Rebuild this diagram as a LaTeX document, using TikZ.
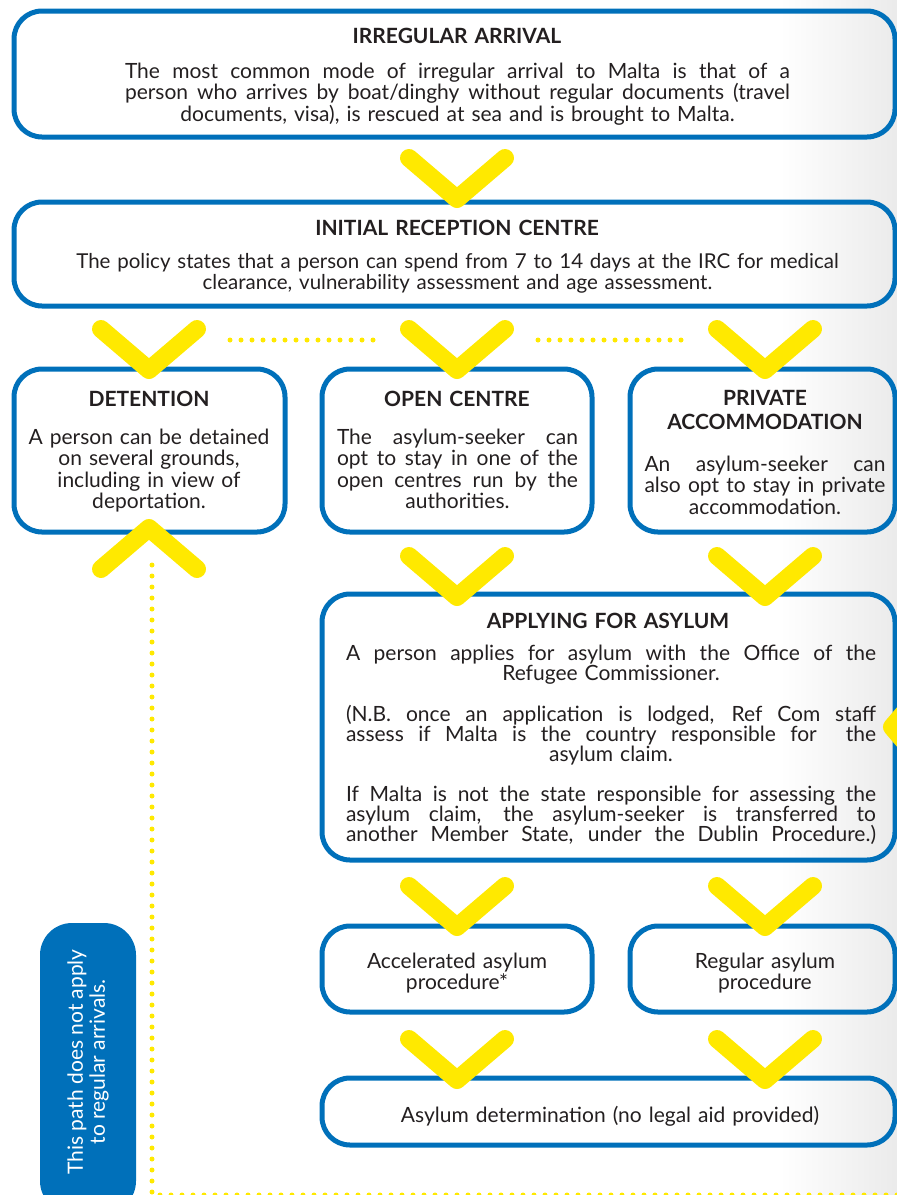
\documentclass[tikz,border=0pt]{standalone}
\usepackage{fontspec}
\setmainfont{Lato}
\usepackage{xcolor}
\usetikzlibrary{
	positioning,						% Relative positioning
	calc								% Coordinate calculations
}
\definecolor{asylumblue}{RGB}{0,112,186}
\definecolor{chevyellow}{RGB}{255,233,0}
\definecolor{inktext}{RGB}{35,31,32}
\newcommand{\jline}[1]{\leavevmode\hbox to \linewidth{\spaceskip=\fontdimen2\font plus 1fil\relax #1}}

\begin{document}
\begin{tikzpicture}
		[
		,x=1pt, y=-1pt
		,box/.style = {
			,draw=asylumblue
			,line width=5pt
			,rounded corners=28pt
			,inner sep=0pt}
		,title_label/.style = {
			,font=\fontsize{21}{24}\selectfont\bfseries
			,text=inktext
			,text width=#1
			,align=center
			,inner sep=0pt
			,anchor=base}
		,body_text/.style = {
			,font=\fontsize{21}{21.5}\selectfont
			,text=inktext
			,text width=#1
			,align=center
			,inner sep=0pt
			,anchor=base}
		,chev/.style = {
			,draw=chevyellow
			,line width=18pt
			,line cap=round
			,line join=round}
		,dots/.style = {
			,draw=chevyellow
			,line width=5pt
			,line cap=round
			,dash pattern=on 0pt off 11pt}
		,chevron/.pic = {
			\draw[chev] (-48,0) -- (0,41) -- (48,0);}
		]
		
		\useasboundingbox (0,0) rectangle (897,1195);
		\clip (0,0) rectangle (897,1195);
		
		% Shading on the right edge
		\shade[left color=white, right color=black!8] (780,0) rectangle (897,1195);
		
		% Boxes
		\node [box, minimum width=881pt, minimum height=126pt] (arrival)   at (454.5,74)   {};
		\node [box, minimum width=881pt, minimum height=104pt] (reception) at (454.5,254)  {};
		\node [box, minimum width=271pt, minimum height=163pt] (detention) at (149.5,450.5) {};
		\node [box, minimum width=270pt, minimum height=163pt] (open)      at (457,450.5)  {};
		\node [box, minimum width=265pt, minimum height=163pt] (private)   at (762.5,450.5) {};
		\node [box, minimum width=573pt, minimum height=266pt] (applying)  at (608.5,727)  {};
		\node [box, minimum width=270pt, minimum height=86pt]  (accel)     at (457,969)    {};
		\node [box, minimum width=265pt, minimum height=86pt]  (regular)   at (762.5,969)  {};
		\node [box, minimum width=573pt, minimum height=67pt]  (determ)    at (608.5,1111.5) {};
		
		% Titles
		\node [title_label=500pt] (arrival_t)   at (457,43)  {IRREGULAR ARRIVAL};
		\node [title_label=500pt] (reception_t) at (457,235) {INITIAL RECEPTION CENTRE};
		\node [title_label=250pt] (detention_t) at (149,406) {DETENTION};
		\node [title_label=250pt] (open_t)      at (457,406) {OPEN CENTRE};
		\node [title_label=250pt] (private_t)   at (765,405) {PRIVATE\\ACCOMMODATION};
		\node [title_label=500pt] (applying_t)  at (608,628) {APPLYING FOR ASYLUM};
		
		% Texts
		\node [body_text=665pt] (arrival_b) at (457.5,78) {\jline{The most common mode of irregular arrival to Malta is that of a}\\\jline{person who arrives by boat/dinghy without regular documents (travel}\\documents, visa), is rescued at sea and is brought to Malta.};
		\node [body_text=840pt, font=\fontsize{20.5}{21}\selectfont] (reception_b) at (457.5,268) {The policy states that a person can spend from 7 to 14 days at the IRC for medical\\clearance, vulnerability assessment and age assessment.};
		\node [body_text=250pt] (detention_b) at (149,444) {A person can be detained\\on several grounds,\\including in view of\\deportation.};
		\node [body_text=241pt] (open_b) at (457.5,444) {\jline{The asylum-seeker can}\\\jline{opt to stay in one of the}\\\jline{open centres run by the}\\authorities.};
		\node [body_text=241pt] (private_b) at (765,471) {\jline{An asylum-seeker can}\\\jline{also opt to stay in private}\\accommodation.};
		\node [body_text=530pt, font=\fontsize{21}{20}\selectfont] (applying_b) at (611,660) {\jline{A person applies for asylum with the Office of the}\\Refugee Commissioner.\\[20pt]
			\jline{(N.B. once an application is lodged, Ref Com staff}\\\jline{assess if Malta is the country responsible for\ \ the}\\asylum claim.\\[20pt]
			\jline{If Malta is not the state responsible for assessing the}\\\jline{asylum claim, the asylum-seeker is transferred to}\\\jline{another Member State, under the Dublin Procedure.)}};
		\node [body_text=260pt] (accel_b)   at (457,968)  {Accelerated asylum\\procedure*};
		\node [body_text=260pt] (regular_b) at (765,968)  {Regular asylum\\procedure};
		\node [body_text=560pt] (determ_b)  at (610,1122) {Asylum determination (no legal aid provided)};
		
		% Side note
		\node [fill=asylumblue, rounded corners=32pt, minimum width=96pt, minimum height=290pt] (note) at (88,1068) {};
		\node [font=\fontsize{21}{22}\selectfont, text=white, align=center, rotate=90] (note_t) at (88,1062) {This path does not apply\\to regular arrivals.};
		
		% Chevrons
		\pic at (457,158)  {chevron};
		\pic at (149,329)  {chevron};
		\pic at (457,329)  {chevron};
		\pic at (765,329)  {chevron};
		\pic [rotate=180] at (149,569) {chevron};
		\pic at (457,556)  {chevron};
		\pic at (765,556)  {chevron};
		\pic [rotate=-90] at (933,727) {chevron};
		\pic at (457,886)  {chevron};
		\pic at (765,886)  {chevron};
		\pic at (457,1039) {chevron};
		\pic at (765,1039) {chevron};
		
		% Dotted paths
		\coordinate (row_a) at (230,340);
		\coordinate (row_b) at (376,340);
		\coordinate (row_c) at (538,340);
		\coordinate (row_d) at (685,340);
		\coordinate (path_top) at (152,565);
		\coordinate (path_corner) at (152,1195);
		\coordinate (path_end) at (900,1195);
		\draw [dots] (row_a) -- (row_b);
		\draw [dots] (row_c) -- (row_d);
		\draw [dots] (path_top) -- (path_corner) -- (path_end);
	\end{tikzpicture}
\end{document}
